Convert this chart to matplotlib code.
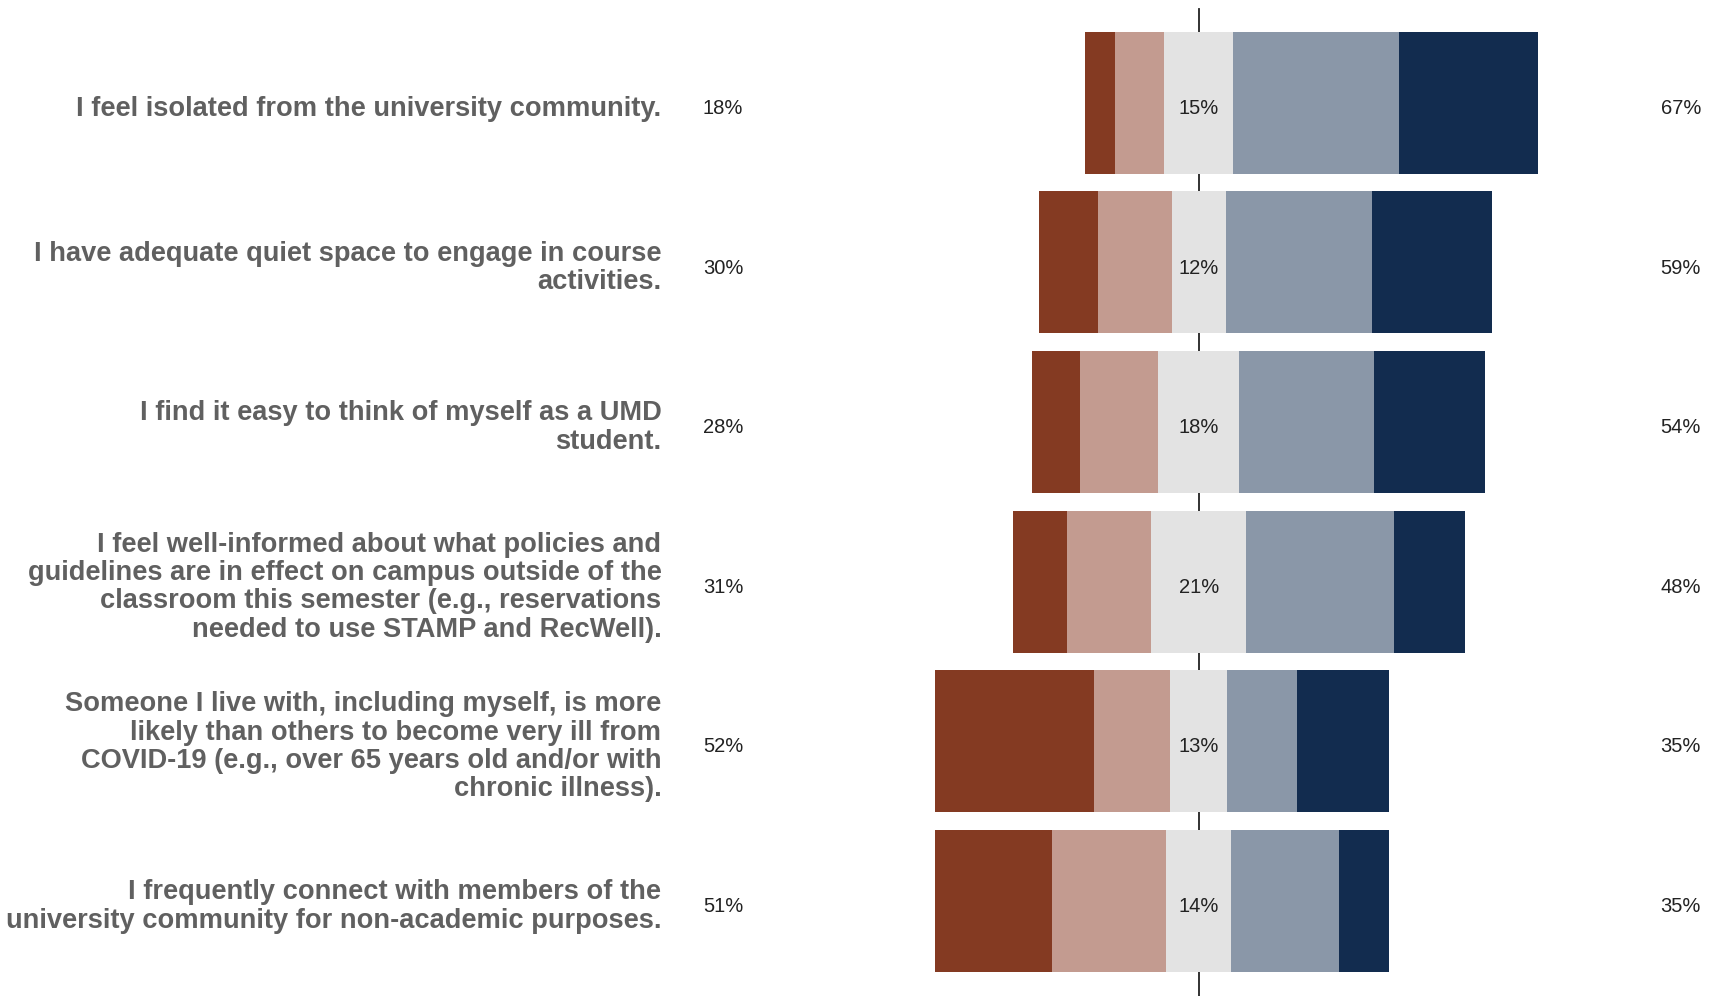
import matplotlib.pyplot as plt
import numpy as np

# diverging likert bars, centred on the middle of the neutral segment
labels = [
    "I feel isolated from the university community.",
    "I have adequate quiet space to engage in course\nactivities.",
    "I find it easy to think of myself as a UMD\nstudent.",
    "I feel well-informed about what policies and\nguidelines are in effect on campus outside of the\nclassroom this semester (e.g., reservations\nneeded to use STAMP and RecWell).",
    "Someone I live with, including myself, is more\nlikely than others to become very ill from\nCOVID-19 (e.g., over 65 years old and/or with\nchronic illness).",
    "I frequently connect with members of the\nuniversity community for non-academic purposes.",
]
strongly_disagree = [6.6, 13.1, 10.7, 11.9, 35.1, 25.8]
disagree = [11.0, 16.2, 17.2, 18.7, 16.7, 25.1]
neutral = [15.1, 11.9, 18.0, 20.9, 12.6, 14.4]
agree = [36.7, 32.2, 29.6, 32.6, 15.3, 23.8]
strongly_agree = [30.6, 26.6, 24.5, 15.8, 20.3, 10.9]

low_pct = ["18%", "30%", "28%", "31%", "52%", "51%"]
mid_pct = ["15%", "12%", "18%", "21%", "13%", "14%"]
high_pct = ["67%", "59%", "54%", "48%", "35%", "35%"]

colors = ["#843a22", "#c39b90", "#e3e3e3", "#8a97a8", "#122c4f"]

fig = plt.figure(figsize=(17.26, 9.96), dpi=100)
ax = fig.add_axes([0, 0, 1, 1])

n = len(labels)
y = np.arange(n)
sd = np.array(strongly_disagree)
d = np.array(disagree)
ne = np.array(neutral)
a = np.array(agree)
sa = np.array(strongly_agree)

start = -(sd + d + ne / 2)
segs = [sd, d, ne, a, sa]
left = start.copy()

ax.plot([0, 0], [-0.59, 5.7], color="#222222", lw=1.3, zorder=0)

for vals, c in zip(segs, colors):
    ax.barh(y, vals, left=left, height=0.89, color=c, zorder=2)
    left = left + vals

dy = 0.035
for i in range(n):
    ax.text(-118.6, y[i] + dy, labels[i], ha="right", va="center", fontsize=19.6,
            fontweight="bold", color="#606060", family="Liberation Sans",
            linespacing=1.12)
    ax.text(-105, y[i] + dy, low_pct[i], ha="center", va="center", fontsize=14.5,
            color="#222222", family="Liberation Sans")
    ax.text(0, y[i] + dy, mid_pct[i], ha="center", va="center", fontsize=14.5,
            color="#222222", family="Liberation Sans", zorder=3)
    ax.text(106.4, y[i] + dy, high_pct[i], ha="center", va="center", fontsize=14.5,
            color="#222222", family="Liberation Sans")

ax.set_xlim(-264.6, 116.4)
ax.set_ylim(5.597, -0.645)
ax.axis("off")

fig.savefig("out.png", dpi=100)
